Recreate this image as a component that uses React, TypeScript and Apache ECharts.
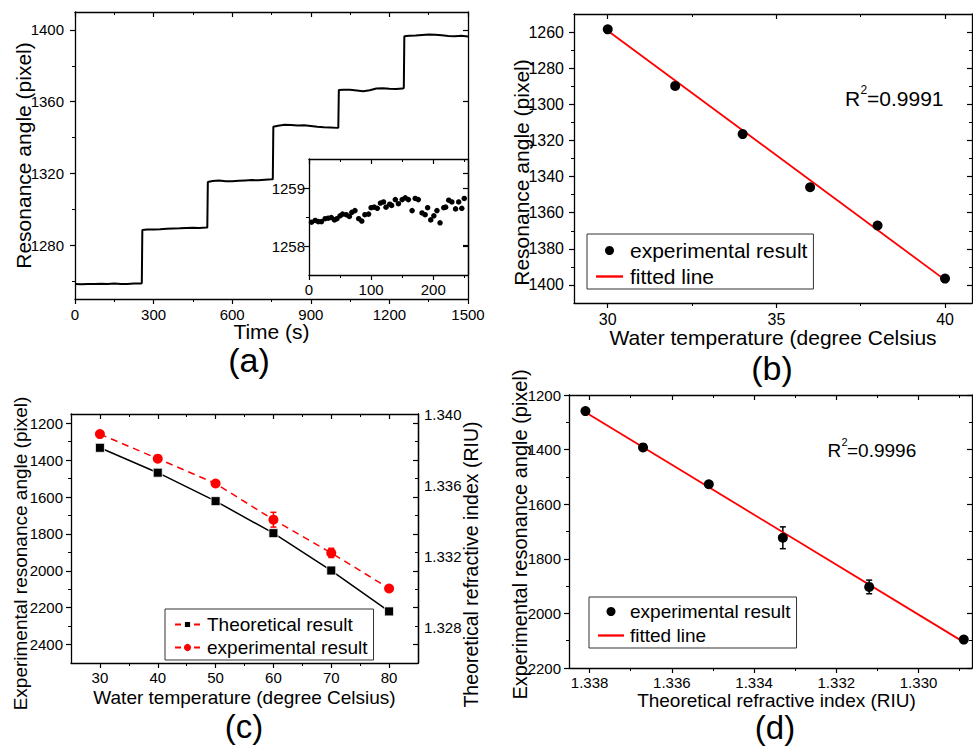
import React, { useEffect, useRef } from "react";
import * as echarts from "echarts";

const FONT = "'Liberation Sans', Arial, Helvetica, sans-serif";

// ---------- Panel (a): resonance angle vs time ----------
const timeS = [
  0, 25, 50, 75, 100, 125, 150, 175, 200, 225, 250, 255,
  257, 275, 300, 325, 350, 375, 400, 425, 450, 475, 500, 505,
  507, 525, 550, 575, 600, 625, 650, 675, 700, 725, 750, 755,
  757, 775, 800, 825, 850, 875, 900, 925, 950, 975, 1000, 1005,
  1007, 1025, 1050, 1075, 1100, 1125, 1150, 1175, 1200, 1225, 1250, 1255,
  1257, 1275, 1300, 1325, 1350, 1375, 1400, 1425, 1450, 1475, 1500,
];
const anglePx = [
  1258.3, 1258.2, 1258.4, 1258.3, 1258.5, 1258.4, 1258.6, 1258.3, 1258.4, 1258.6, 1258.7, 1258.8,
  1288.5, 1288.7, 1288.8, 1288.9, 1289.1, 1289.3, 1289.4, 1289.6, 1289.7, 1289.6, 1289.8, 1289.9,
  1315.2, 1315.8, 1316.0, 1315.7, 1315.6, 1315.9, 1316.1, 1316.3, 1316.2, 1316.5, 1316.7, 1316.8,
  1346.0, 1346.6, 1347.1, 1347.0, 1346.7, 1346.8, 1346.4, 1346.0, 1345.7, 1345.6, 1345.4, 1345.5,
  1366.5, 1366.7, 1366.6, 1366.2, 1365.8, 1366.4, 1367.3, 1367.5, 1367.2, 1367.1, 1367.3, 1367.6,
  1396.5, 1396.7, 1396.9, 1397.2, 1397.5, 1397.3, 1397.0, 1396.6, 1396.5, 1396.7, 1396.4,
];
const timeTicks = [0, 300, 600, 900, 1200, 1500];
const timeMinor = [150, 450, 750, 1050, 1350];
const angleTicks = [1280, 1320, 1360, 1400];
const angleMinor = [1260, 1300, 1340, 1380];

// inset
const insetT = [4, 10, 15, 20, 26, 31, 36, 41, 45, 50, 54, 60, 65, 69, 74, 80, 85, 90, 96, 100, 105, 110, 115, 120, 124, 130, 133, 139, 144, 150, 155, 160, 166, 171, 176, 182, 187, 191, 196, 201, 206, 211, 217, 220, 225, 230, 236, 241, 246, 250];
const insetPx = [
  1258.41, 1258.44, 1258.42, 1258.42, 1258.47, 1258.48, 1258.49, 1258.45, 1258.47, 1258.52,
  1258.55, 1258.54, 1258.51, 1258.58, 1258.61, 1258.47, 1258.43, 1258.54, 1258.55, 1258.66,
  1258.67, 1258.65, 1258.74, 1258.76, 1258.67, 1258.72, 1258.70, 1258.80, 1258.73, 1258.80,
  1258.83, 1258.80, 1258.61, 1258.82, 1258.80, 1258.57, 1258.54, 1258.66, 1258.45, 1258.52,
  1258.61, 1258.40, 1258.66, 1258.67, 1258.79, 1258.76, 1258.64, 1258.76, 1258.65, 1258.82,
];
const insetTTicks = [0, 100, 200];
const insetTMinor = [50, 150, 250];
const insetPxTicks = [1258, 1259];
const insetPxMinor = [1258.5];

// ---------- Panel (b) ----------
const tempB = [30, 32, 34, 36, 38, 40];
const pxB = [1258.5, 1289.8, 1316.5, 1345.9, 1367.1, 1396.5];
const fitB = [[30, 1259.3], [40, 1397.2]];
const tempBTicks = [30, 35, 40];
const tempBMinor = [32.5, 37.5];
const pxBTicks = [1260, 1280, 1300, 1320, 1340, 1360, 1380, 1400];
const pxBMinor = [1270, 1290, 1310, 1330, 1350, 1370, 1390];

// ---------- Panel (c) & (d) ----------
const tempC = [30, 40, 50, 60, 70, 80];
const expPx = [1259, 1392, 1527, 1723, 1903, 2096];
const expErr = [5, 6, 6, 40, 25, 6];
const theoRI = [1.3381, 1.3367, 1.3351, 1.3333, 1.3312, 1.3289];
const tempCTicks = [30, 40, 50, 60, 70, 80];
const tempCMinor = [35, 45, 55, 65, 75];
const pxCTicks = [1200, 1400, 1600, 1800, 2000, 2200, 2400];
const pxCMinor = [1300, 1500, 1700, 1900, 2100, 2300];
const riCTicks = [1.328, 1.332, 1.336, 1.34];
const riDTicks = [1.33, 1.332, 1.334, 1.336, 1.338];
const riDMinor = [1.329, 1.331, 1.333, 1.335, 1.337];
const pxDTicks = [1200, 1400, 1600, 1800, 2000, 2200];
const pxDMinor = [1300, 1500, 1700, 1900, 2100];
const fitD = [[1.3381, 1263], [1.329, 2096]];

type AxSpec = {
  grid: number;
  dim: "x" | "y";
  min: number;
  max: number;
  inverse?: boolean;
  labels: number[];
  majors: number[];
  minors: number[];
  fontSize: number;
  margin: number;
  digits?: number;
  name?: string;
  nameGap?: number;
  nameSize?: number;
  namePad?: number[];
  pos?: string;
  mirror?: boolean;
};

const LINE = { show: true, onZero: false, lineStyle: { color: "#000", width: 1.3 } };

function addAxes(list: any[], s: AxSpec): number {
  const pos = s.pos ?? (s.dim === "x" ? "bottom" : "left");
  const opp = ({ bottom: "top", top: "bottom", left: "right", right: "left" } as any)[pos];
  const base = {
    type: "value",
    gridIndex: s.grid,
    min: s.min,
    max: s.max,
    inverse: !!s.inverse,
    splitLine: { show: false },
    minorTick: { show: false },
    axisPointer: { show: false },
  };
  const idx = list.length;
  list.push({
    ...base,
    position: pos,
    axisLine: LINE,
    axisTick: {
      show: s.majors.length > 0,
      inside: false,
      length: 5,
      customValues: s.majors,
      lineStyle: { color: "#000", width: 1.2 },
    },
    axisLabel: {
      show: true,
      customValues: s.labels,
      margin: s.margin,
      fontSize: s.fontSize,
      fontFamily: FONT,
      color: "#000",
      hideOverlap: false,
      formatter: (v: number) => (s.digits ? v.toFixed(s.digits) : String(v)),
    },
    name: s.name,
    nameLocation: "middle",
    nameGap: s.nameGap,
    nameMoveOverlap: false,
    nameRotate: s.dim === "y" ? 90 : 0,
    nameTextStyle: {
      fontSize: s.nameSize,
      fontFamily: FONT,
      color: "#000",
      padding: s.namePad ?? 0,
    },
  });
  if (s.minors.length) {
    list.push({
      ...base,
      position: pos,
      axisLine: { show: false },
      axisTick: { show: true, inside: false, length: 3, customValues: s.minors, lineStyle: { color: "#000", width: 1 } },
      axisLabel: { show: false },
    });
  }
  if (s.mirror !== false) {
    list.push({
      ...base,
      position: opp,
      axisLine: LINE,
      axisTick: { show: true, inside: true, length: 5, customValues: s.majors, lineStyle: { color: "#000", width: 1.2 } },
      axisLabel: { show: false },
    });
    if (s.minors.length) {
      list.push({
        ...base,
        position: opp,
        axisLine: { show: false },
        axisTick: { show: true, inside: true, length: 3, customValues: s.minors, lineStyle: { color: "#000", width: 1 } },
        axisLabel: { show: false },
      });
    }
  }
  return idx;
}

const errRender = (color: string) => (params: any, api: any) => {
  const x = api.value(0);
  const y = api.value(1);
  const e = api.value(2);
  const p1 = api.coord([x, y - e]);
  const p2 = api.coord([x, y + e]);
  const w = 3;
  const style = { stroke: color, lineWidth: 1.5 };
  return {
    type: "group",
    children: [
      { type: "line", shape: { x1: p1[0], y1: p1[1], x2: p2[0], y2: p2[1] }, style },
      { type: "line", shape: { x1: p1[0] - w, y1: p1[1], x2: p1[0] + w, y2: p1[1] }, style },
      { type: "line", shape: { x1: p2[0] - w, y1: p2[1], x2: p2[0] + w, y2: p2[1] }, style },
    ],
  };
};

const LINE_ICON = "path://M0,0L27,0L27,2.4L0,2.4Z";

function buildOption() {
  const xAxes: any[] = [];
  const yAxes: any[] = [];

  const axX = addAxes(xAxes, { grid: 0, dim: "x", min: 0, max: 1500, labels: timeTicks, majors: timeTicks, minors: timeMinor, fontSize: 15, margin: 8, name: "Time (s)", nameGap: 22, nameSize: 21 });
  const axY = addAxes(yAxes, { grid: 0, dim: "y", min: 1250, max: 1410, labels: angleTicks, majors: angleTicks, minors: angleMinor, fontSize: 15, margin: 11, name: "Resonance angle (pixel)", nameGap: 41, nameSize: 21 });
  const inX = addAxes(xAxes, { grid: 1, dim: "x", min: 0, max: 256, labels: insetTTicks, majors: insetTTicks, minors: insetTMinor, fontSize: 15, margin: 7 });
  const inY = addAxes(yAxes, { grid: 1, dim: "y", min: 1257.5, max: 1259.5, labels: insetPxTicks, majors: insetPxTicks, minors: insetPxMinor, fontSize: 15, margin: 4 });
  const bX = addAxes(xAxes, { grid: 2, dim: "x", min: 29, max: 40.8, labels: tempBTicks, majors: tempBTicks, minors: tempBMinor, fontSize: 16, margin: 8, name: "Water temperature (degree Celsius", nameGap: 24, nameSize: 21 });
  const bY = addAxes(yAxes, { grid: 2, dim: "y", min: 1250, max: 1410, inverse: true, labels: pxBTicks, majors: pxBTicks, minors: pxBMinor, fontSize: 16, margin: 10, name: "Resonance angle (pixel)", nameGap: 42, nameSize: 21, namePad: [0, 28, 0, 0] });
  const cX = addAxes(xAxes, { grid: 3, dim: "x", min: 25, max: 85, labels: tempCTicks, majors: tempCTicks, minors: tempCMinor, fontSize: 15, margin: 7, name: "Water temperature (degree Celsius)", nameGap: 25, nameSize: 19 });
  const cY = addAxes(yAxes, { grid: 3, dim: "y", min: 1150, max: 2500, inverse: true, labels: pxCTicks, majors: pxCTicks, minors: pxCMinor, fontSize: 15, margin: 8, name: "Experimental resonance angle (pixel)", nameGap: 41, nameSize: 19, namePad: [0, 30, 0, 0] });
  const cR = addAxes(yAxes, { grid: 3, dim: "y", pos: "right", min: 1.326, max: 1.34, labels: riCTicks, majors: [], minors: [], digits: 3, fontSize: 15, margin: 6, name: "Theoretical refractive index (RIU)", nameGap: 43, nameSize: 19.5, namePad: [0, 52, 0, 0], mirror: false });
  const dX = addAxes(xAxes, { grid: 4, dim: "x", min: 1.3287, max: 1.3385, inverse: true, labels: riDTicks, majors: riDTicks, minors: riDMinor, digits: 3, fontSize: 15, margin: 7, name: "Theoretical refractive index (RIU)", nameGap: 23, nameSize: 19, namePad: [0, 0, 0, 12] });
  const dY = addAxes(yAxes, { grid: 4, dim: "y", min: 1200, max: 2200, inverse: true, labels: pxDTicks, majors: pxDTicks, minors: pxDMinor, fontSize: 15, margin: 8, name: "Experimental resonance angle (pixel)", nameGap: 39, nameSize: 20, namePad: [0, 6, 0, 0] });

  const grid = [
    { left: 75, top: 12, width: 393, height: 287 },
    { left: 309, top: 159, width: 159, height: 116, show: true, backgroundColor: "#fff", borderWidth: 0 },
    { left: 574, top: 14, width: 398, height: 289 },
    { left: 71, top: 414, width: 347, height: 249 },
    { left: 569, top: 395, width: 403, height: 273 },
  ].map((g) => ({ containLabel: false, outerBoundsMode: "none", ...g }));

  const legendText = { fontFamily: FONT, color: "#000" };

  const series: any[] = [
    {
      name: "time trace",
      type: "line",
      xAxisIndex: axX,
      yAxisIndex: axY,
      data: timeS.map((t, i) => [t, anglePx[i]]),
      showSymbol: false,
      symbol: "none",
      lineStyle: { color: "#000", width: 2 },
    },
    {
      name: "inset",
      type: "scatter",
      xAxisIndex: inX,
      yAxisIndex: inY,
      data: insetT.map((t, i) => [t, insetPx[i]]),
      symbolSize: 5.5,
      itemStyle: { color: "#000", opacity: 1 },
    },
    {
      name: "fitted line",
      type: "line",
      xAxisIndex: bX,
      yAxisIndex: bY,
      data: fitB,
      symbol: "none",
      lineStyle: { color: "#ff0000", width: 1.8 },
      itemStyle: { color: "#ff0000" },
    },
    {
      name: "experimental result",
      type: "scatter",
      xAxisIndex: bX,
      yAxisIndex: bY,
      data: tempB.map((t, i) => [t, pxB[i]]),
      symbolSize: 10,
      itemStyle: { color: "#000", opacity: 1 },
      z: 3,
    },
    {
      name: "error c",
      type: "custom",
      xAxisIndex: cX,
      yAxisIndex: cY,
      renderItem: errRender("#ff0000"),
      data: tempC.map((t, i) => [t, expPx[i], expErr[i]]),
      encode: { x: 0, y: 1 },
      z: 1,
    },
    {
      name: "Theoretical result",
      type: "line",
      xAxisIndex: cX,
      yAxisIndex: cR,
      data: tempC.map((t, i) => [t, theoRI[i]]),
      symbol: "rect",
      symbolSize: 9,
      itemStyle: { color: "#000", borderColor: "#fff", borderWidth: 0.8 },
      lineStyle: { color: "#000", width: 1.5 },
      z: 2,
    },
    {
      name: "experimental result (c)",
      type: "line",
      xAxisIndex: cX,
      yAxisIndex: cY,
      data: tempC.map((t, i) => [t, expPx[i]]),
      symbol: "circle",
      symbolSize: 10,
      itemStyle: { color: "#ff0000" },
      lineStyle: { color: "#ff0000", width: 1.5, type: [7, 5] },
      z: 3,
    },
    {
      name: "error d",
      type: "custom",
      xAxisIndex: dX,
      yAxisIndex: dY,
      renderItem: errRender("#000"),
      data: theoRI.map((r, i) => [r, expPx[i], expErr[i]]),
      encode: { x: 0, y: 1 },
      z: 1,
    },
    {
      name: "fitted line",
      type: "line",
      xAxisIndex: dX,
      yAxisIndex: dY,
      data: fitD,
      symbol: "none",
      lineStyle: { color: "#ff0000", width: 1.8 },
      itemStyle: { color: "#ff0000" },
      z: 2,
    },
    {
      name: "experimental result",
      type: "scatter",
      xAxisIndex: dX,
      yAxisIndex: dY,
      data: theoRI.map((r, i) => [r, expPx[i]]),
      symbolSize: 10,
      itemStyle: { color: "#000", opacity: 1 },
      z: 3,
    },
  ];

  const legendBase = {
    orient: "vertical",
    borderColor: "#333",
    borderWidth: 1,
    borderRadius: 0,
    backgroundColor: "#fff",
    selectedMode: false,
    itemWidth: 27,
    itemHeight: 9,
  };

  const legend = [
    {
      ...legendBase,
      left: 587,
      top: 234,
      padding: [6, 6, 2, 9],
      itemGap: 5,
      textStyle: { ...legendText, fontSize: 21, padding: [0, 0, 0, 2] },
      data: [
        { name: "experimental result", icon: "circle", itemStyle: { color: "#000", opacity: 1 } },
        { name: "fitted line", icon: LINE_ICON, itemStyle: { color: "#ff0000" } },
      ],
    },
    {
      ...legendBase,
      left: 165,
      top: 609,
      padding: [6, 6, 3, 9],
      itemGap: 4,
      itemWidth: 25,
      textStyle: { ...legendText, fontSize: 19, padding: [0, 0, 0, 2] },
      formatter: (n: string) => n.replace(" (c)", ""),
      data: [
        { name: "Theoretical result", lineStyle: { color: "#ff0000", type: [6, 13] } },
        { name: "experimental result (c)", lineStyle: { color: "#ff0000", type: [6, 13] } },
      ],
    },
    {
      ...legendBase,
      left: 589,
      top: 597,
      padding: [5, 6, 3, 9],
      itemGap: 5,
      itemWidth: 26,
      textStyle: { ...legendText, fontSize: 19, padding: [0, 0, 0, 1] },
      data: [
        { name: "experimental result", icon: "circle", itemStyle: { color: "#000", opacity: 1 } },
        { name: "fitted line", icon: LINE_ICON, itemStyle: { color: "#ff0000" } },
      ],
    },
  ];

  const txt = (x: number, y: number, text: string, size: number, align = "left") => ({
    type: "text",
    x,
    y,
    style: { text, font: `${size}px ${FONT}`, fill: "#000", textAlign: align, textVerticalAlign: "middle" },
  });

  const graphic = [
    txt(249, 360, "(a)", 34, "center"),
    txt(772, 368, "(b)", 34, "center"),
    txt(244, 726, "(c)", 33, "center"),
    txt(775, 727, "(d)", 33, "center"),
    txt(845, 98, "R", 21),
    txt(860.5, 90, "2", 12),
    txt(867, 98, "=0.9991", 21),
    txt(827.5, 450, "R", 19),
    txt(841.5, 442, "2", 11),
    txt(847, 450, "=0.9996", 19),
  ];

  return {
    animation: false,
    backgroundColor: "#fff",
    textStyle: { fontFamily: FONT },
    grid,
    xAxis: xAxes,
    yAxis: yAxes,
    legend,
    series,
    graphic,
  };
}

export default function App() {
  const ref = useRef<HTMLDivElement>(null);
  useEffect(() => {
    if (!ref.current) return;
    const chart = echarts.init(ref.current, null, { renderer: "svg" });
    chart.setOption(buildOption() as any);
    return () => chart.dispose();
  }, []);
  return (
    <div
      ref={ref}
      style={{ position: "absolute", left: 0, top: 0, width: 973, height: 746, background: "#fff" }}
    />
  );
}
